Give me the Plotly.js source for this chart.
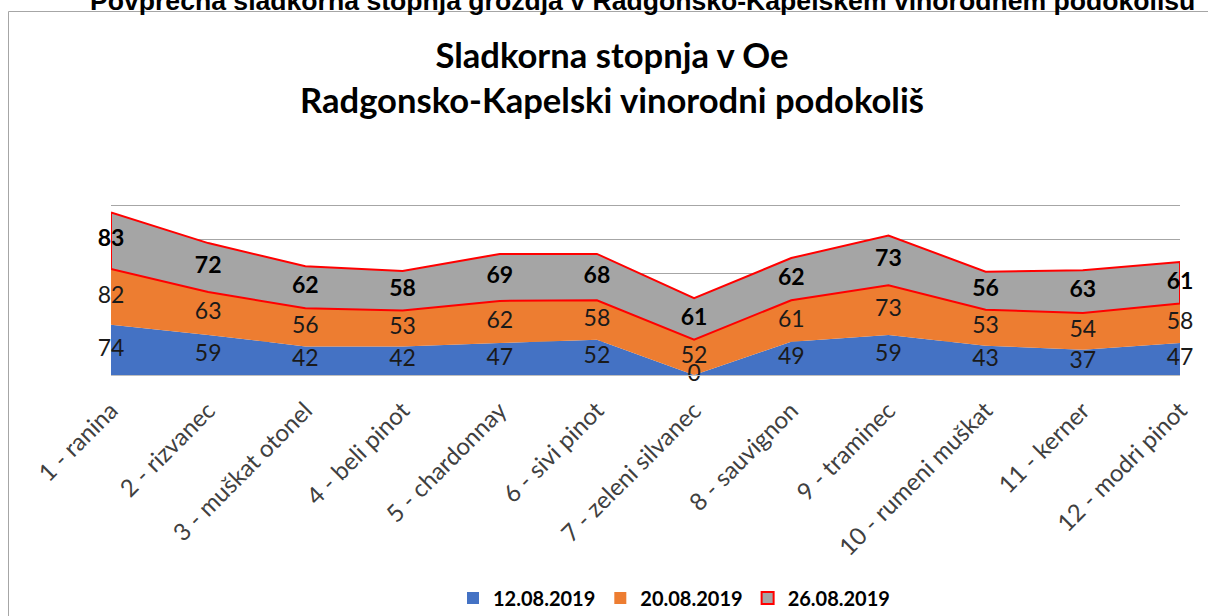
<!DOCTYPE html>
<html><head><meta charset="utf-8">
<script src="https://cdn.plot.ly/plotly-3.0.1.min.js"></script>
<style>html,body{margin:0;padding:0;background:#fff}#chart{width:1208px;height:616px}</style>
</head><body><div id="chart"></div>
<script>
// ---- data ----
const categories = ["1 - ranina","2 - rizvanec","3 - muškat otonel","4 - beli pinot","5 - chardonnay","6 - sivi pinot","7 - zeleni silvanec","8 - sauvignon","9 - traminec","10 - rumeni muškat","11 - kerner","12 - modri pinot"];
const seriesNames = ["12.08.2019","20.08.2019","26.08.2019"];
const values1208 = [74,59,42,42,47,52,0,49,59,43,37,47];
const values2008 = [82,63,56,53,62,58,52,61,73,53,54,58];
const values2608 = [83,72,62,58,69,68,61,62,73,56,63,61];
const chartTitle = "Sladkorna stopnja v Oe<br>Radgonsko-Kapelski vinorodni podokoliš";
const pageHeading = "Povprečna sladkorna stopnja grozdja v Radgonsko-Kapelskem vinorodnem podokolišu";

// ---- derived ----
const idx = categories.map((_, i) => i);
const cum1 = values1208.slice();
const cum2 = cum1.map((v, i) => v + values2008[i]);
const cum3 = cum2.map((v, i) => v + values2608[i]);
const mid1 = values1208.map(v => v / 2);
const mid2 = cum1.map((v, i) => v + values2008[i] / 2);
const mid3 = cum2.map((v, i) => v + values2608[i] / 2);
const revIdx = idx.slice().reverse();

const colors = ["#4472C4", "#ED7D31", "#A5A5A5"];
const FONT = "Lato, Carlito, Calibri, sans-serif";

// plot area geometry (pixels)
const L = 111, R = 28, T = 171, B = 241, W = 1208, H = 616;
const pw = W - L - R, ph = H - T - B;
const px = x => (x - L) / pw;
const py = y => (H - B - y) / ph;

const traces = [
  {x: idx, y: cum1, mode: "lines", fill: "tozeroy", fillcolor: colors[0], line: {width: 0}, showlegend: false, hoverinfo: "skip"},
  {x: idx, y: cum2, mode: "lines", fill: "tonexty", fillcolor: colors[1], line: {width: 0}, showlegend: false, hoverinfo: "skip"},
  {x: idx.concat(revIdx).concat([idx[0]]), y: cum3.concat(cum2.slice().reverse()).concat([cum3[0]]),
   mode: "lines", fill: "toself", fillcolor: colors[2], line: {color: "#FF0000", width: 2}, showlegend: false, hoverinfo: "skip"},
  {x: idx, y: mid1, mode: "text", text: values1208.map(String), textposition: "middle center",
   textfont: {family: FONT, size: 23, color: "#1a1a1a"}, cliponaxis: false, showlegend: false, hoverinfo: "skip"},
  {x: idx, y: mid2, mode: "text", text: values2008.map(String), textposition: "middle center",
   textfont: {family: FONT, size: 23, color: "#1a1a1a"}, cliponaxis: false, showlegend: false, hoverinfo: "skip"},
  {x: idx, y: mid3, mode: "text", text: values2608.map(String), textposition: "middle center",
   textfont: {family: FONT, size: 23, color: "#000000", weight: "bold"}, cliponaxis: false, showlegend: false, hoverinfo: "skip"},
  // legend entries
  {x: [null], y: [null], mode: "markers", name: seriesNames[0], marker: {symbol: "square", size: 12, color: colors[0]}, showlegend: true},
  {x: [null], y: [null], mode: "markers", name: seriesNames[1], marker: {symbol: "square", size: 12, color: colors[1]}, showlegend: true},
  {x: [null], y: [null], mode: "markers", name: seriesNames[2], marker: {symbol: "square", size: 12, color: colors[2], line: {color: "#FF0000", width: 2}}, showlegend: true}
];

const layout = {
  width: W, height: H, autosize: false,
  margin: {l: L, r: R, t: T, b: B, pad: 0, autoexpand: false},
  paper_bgcolor: "#ffffff", plot_bgcolor: "#ffffff",
  title: {
    text: chartTitle,
    font: {family: FONT, size: 34.6, color: "#000000", weight: "bold"},
    xref: "paper", x: px(612), xanchor: "center",
    yref: "container", y: 1 - 68 / H, yanchor: "middle"
  },
  xaxis: {
    range: [0, 11], tickmode: "array", tickvals: idx, ticktext: categories,
    tickangle: -45, tickfont: {family: FONT, size: 24, color: "#404040"},
    showgrid: false, zeroline: false, showline: true, linecolor: "#BFBFBF", linewidth: 1,
    ticks: "", ticklabelstandoff: 11, fixedrange: true, automargin: false
  },
  yaxis: {
    range: [0, 300], tick0: 0, dtick: 50, showgrid: true, gridcolor: "#A6A6A6", gridwidth: 1,
    showticklabels: false, zeroline: false, showline: false, ticks: "", fixedrange: true, automargin: false
  },
  legend: {
    orientation: "h", traceorder: "normal", x: px(674), xanchor: "center", y: py(598), yanchor: "middle",
    font: {family: FONT, size: 20, color: "#000000", weight: "bold"},
    bgcolor: "rgba(0,0,0,0)", itemwidth: 30
  },
  shapes: [
    {type: "rect", xref: "paper", yref: "paper", x0: px(8.5), x1: 1.2, y0: -1.3, y1: py(11.5),
     line: {color: "#A6A6A6", width: 1}, fillcolor: "rgba(0,0,0,0)", layer: "below"}
  ],
  annotations: [
    {text: pageHeading, xref: "paper", yref: "paper", x: px(642), y: py(8), xanchor: "center", yanchor: "bottom",
     showarrow: false, font: {family: "Liberation Sans, Arial, sans-serif", size: 26.6, color: "#000000", weight: "bold"}, yshift: -10}
  ],
  showlegend: true
};

Plotly.newPlot("chart", traces, layout, {displayModeBar: false, staticPlot: true});
</script>
</body></html>
